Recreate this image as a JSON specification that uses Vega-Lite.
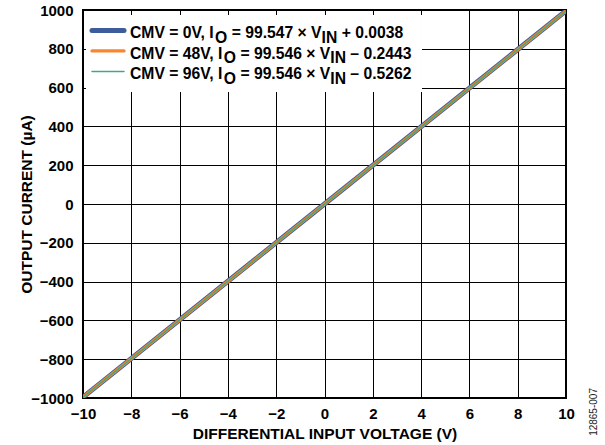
{
  "$schema": "https://vega.github.io/schema/vega-lite/v6.json",
  "width": 483,
  "height": 388,
  "autosize": {"type": "none"},
  "padding": {"left": 83, "top": 10, "right": 39, "bottom": 47},
  "background": "white",
  "config": {
    "view": {"stroke": "black", "strokeWidth": 2},
    "font": "Liberation Sans",
    "axis": {
      "grid": true,
      "gridColor": "black",
      "gridWidth": 1,
      "gridOpacity": 1,
      "domain": false,
      "ticks": false,
      "labelOverlap": false,
      "labelFlush": false,
      "labelBound": false,
      "labelFont": "Liberation Sans",
      "labelFontSize": 15,
      "labelFontWeight": "bold",
      "labelColor": "black",
      "titleFont": "Liberation Sans",
      "titleFontSize": 15.5,
      "titleFontWeight": "bold",
      "titleColor": "black"
    }
  },
  "datasets": {
    "lines": [
      {"series": "CMV = 0V", "vin": -10, "io": -995.466},
      {"series": "CMV = 0V", "vin": 0, "io": 0.004},
      {"series": "CMV = 0V", "vin": 10, "io": 995.474},
      {"series": "CMV = 48V", "vin": -10, "io": -995.704},
      {"series": "CMV = 48V", "vin": 0, "io": -0.244},
      {"series": "CMV = 48V", "vin": 10, "io": 995.216},
      {"series": "CMV = 96V", "vin": -10, "io": -995.986},
      {"series": "CMV = 96V", "vin": 0, "io": -0.526},
      {"series": "CMV = 96V", "vin": 10, "io": 994.934}
    ],
    "legendBox": [
      {"x": -9.876, "x2": 4.037, "y": 974.2, "y2": 577.3}
    ],
    "legendSwatch": [
      {"series": "CMV = 0V", "x": -9.627, "x2": -8.302, "y": 894.3},
      {"series": "CMV = 48V", "x": -9.627, "x2": -8.302, "y": 788.7},
      {"series": "CMV = 96V", "x": -9.627, "x2": -8.302, "y": 683.0}
    ],
    "legendText": [
      {"t": "CMV = 0V, I", "x": -8.054, "y": 855.7},
      {"t": "O", "x": -4.531, "y": 831.5},
      {"t": "= 99.547 × V", "x": -3.844, "y": 855.7},
      {"t": "IN", "x": -0.121, "y": 831.5},
      {"t": "+ 0.0038", "x": 0.710, "y": 855.7},
      {"t": "CMV = 48V, I", "x": -8.054, "y": 750.0},
      {"t": "O", "x": -4.169, "y": 725.8},
      {"t": "= 99.546 × V", "x": -3.483, "y": 750.0},
      {"t": "IN", "x": 0.240, "y": 725.8},
      {"t": "– 0.2443", "x": 1.071, "y": 750.0},
      {"t": "CMV = 96V, I", "x": -8.054, "y": 644.3},
      {"t": "O", "x": -4.169, "y": 620.1},
      {"t": "= 99.546 × V", "x": -3.483, "y": 644.3},
      {"t": "IN", "x": 0.240, "y": 620.1},
      {"t": "– 0.5262", "x": 1.071, "y": 644.3}
    ],
    "figId": [
      {"t": "12865-007", "x": 11.16, "y": -1072}
    ]
  },
  "layer": [
    {
      "data": {"name": "lines"},
      "mark": {"type": "line", "clip": true},
      "encoding": {
        "x": {
          "field": "vin", "type": "quantitative",
          "scale": {"domain": [-10, 10], "nice": false, "zero": false},
          "axis": {
            "values": [-10, -8, -6, -4, -2, 0, 2, 4, 6, 8, 10],
            "tickCount": 30,
            "format": "d",
            "labelPadding": 8,
            "title": "DIFFERENTIAL INPUT VOLTAGE (V)",
            "titleY": 35,
            "titleBaseline": "middle"
          }
        },
        "y": {
          "field": "io", "type": "quantitative",
          "scale": {"domain": [-1000, 1000], "nice": false, "zero": false},
          "axis": {
            "values": [-1000, -800, -600, -400, -200, 0, 200, 400, 600, 800, 1000],
            "tickCount": 30,
            "format": "d",
            "labelPadding": 10,
            "title": "OUTPUT CURRENT (µA)",
            "titleX": -57,
            "titleY": 194,
            "titleAngle": -90,
            "titleAlign": "center",
            "titleBaseline": "middle"
          }
        },
        "color": {
          "field": "series", "type": "nominal",
          "scale": {"domain": ["CMV = 0V", "CMV = 48V", "CMV = 96V"], "range": ["#3C5C9C", "#F7862E", "#47A77B"]},
          "legend": null
        },
        "strokeWidth": {
          "field": "series", "type": "nominal",
          "scale": {"type": "point", "domain": ["CMV = 0V", "CMV = 48V", "CMV = 96V"], "range": [5, 1.5], "padding": 0},
          "legend": null
        }
      }
    },
    {
      "data": {"name": "legendBox"},
      "mark": {"type": "rect", "fill": "white", "stroke": null},
      "encoding": {
        "x": {"field": "x", "type": "quantitative"},
        "x2": {"field": "x2"},
        "y": {"field": "y", "type": "quantitative"},
        "y2": {"field": "y2"}
      }
    },
    {
      "data": {"name": "legendSwatch"},
      "mark": {"type": "rule", "strokeCap": "round"},
      "encoding": {
        "x": {"field": "x", "type": "quantitative"},
        "x2": {"field": "x2"},
        "y": {"field": "y", "type": "quantitative"},
        "color": {"field": "series", "type": "nominal", "legend": null},
        "strokeWidth": {"field": "series", "type": "nominal", "legend": null}
      }
    },
    {
      "data": {"name": "legendText"},
      "mark": {"type": "text", "align": "left", "baseline": "alphabetic", "font": "Liberation Sans", "fontSize": 15.7, "fontWeight": "bold", "color": "black"},
      "encoding": {
        "x": {"field": "x", "type": "quantitative"},
        "y": {"field": "y", "type": "quantitative"},
        "text": {"field": "t"}
      }
    },
    {
      "data": {"name": "figId"},
      "mark": {"type": "text", "angle": 270, "align": "center", "baseline": "middle", "font": "Liberation Sans", "fontSize": 10, "color": "#222"},
      "encoding": {
        "x": {"field": "x", "type": "quantitative"},
        "y": {"field": "y", "type": "quantitative"},
        "text": {"field": "t"}
      }
    }
  ]
}
